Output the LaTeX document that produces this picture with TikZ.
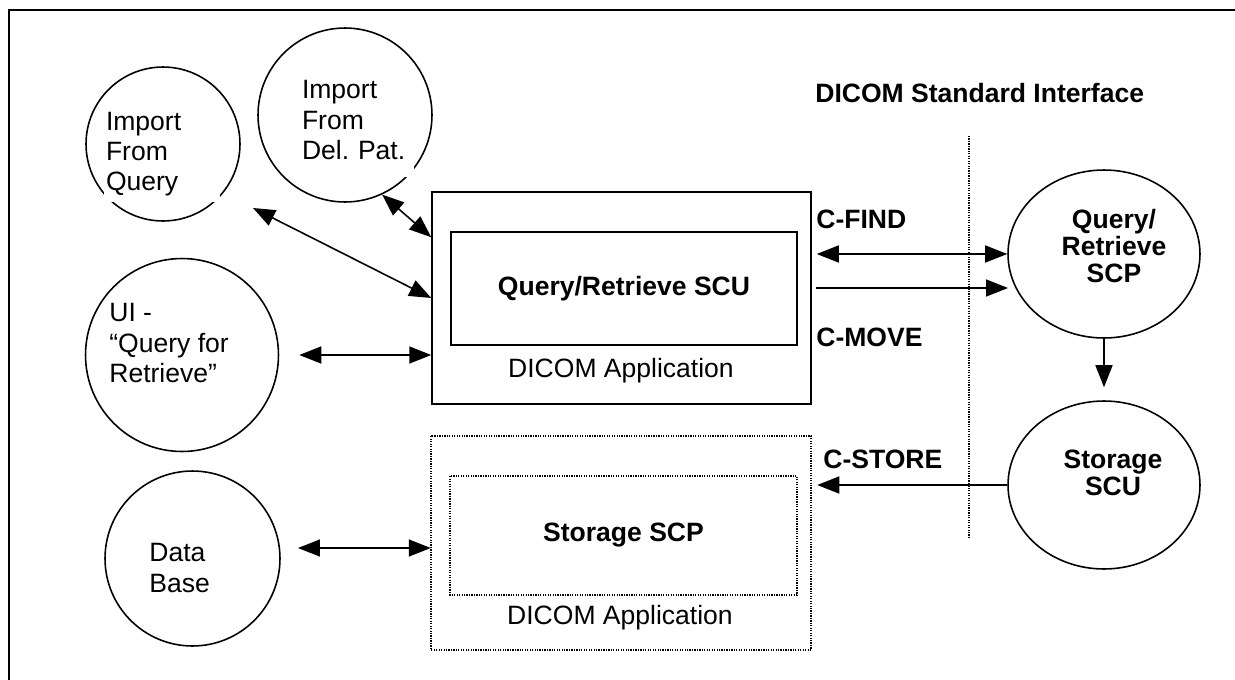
\documentclass[tikz,border=0pt]{standalone}
\usepackage{fontspec}
\setmainfont{Liberation Sans}
\usetikzlibrary{arrows.meta,shapes.geometric,calc}
\frenchspacing

\tikzset{
  every node/.style = {inner sep=0pt, font=\fontsize{15.1pt}{17.1pt}\selectfont},
  lw/.style         = {line width=0.9pt},
  proc/.style       = {draw, lw, circle, minimum size=#1},
  scp/.style        = {draw, lw, ellipse, minimum width=3.84cm, minimum height=3.36cm},
  appbox/.style     = {draw, lw, rectangle, minimum width=7.58cm, minimum height=4.24cm},
  svcbox/.style     = {draw, lw, rectangle, minimum width=6.92cm, minimum height=#1},
  dots/.style       = {line width=1.1pt, dash pattern=on 0.7pt off 0.7pt},
  bold/.style       = {font=\fontsize{15.1pt}{15.4pt}\selectfont\bfseries, align=center},
  cmd/.style        = {anchor=west, font=\fontsize{15.1pt}{17.1pt}\selectfont\bfseries},
  txt/.style        = {align=left, anchor=west},
  clip box/.style   = {fill=white, align=left, inner xsep=0.04cm, text width=#1},
  link/.style       = {lw}
}

\begin{document}
\begin{tikzpicture}[x=0.02cm, y=-0.02cm, >={Triangle[length=0.44cm, width=0.34cm]}]
    \useasboundingbox (0,0) rectangle (1235,680);
    \draw[line width=1.1pt] (1235,10) -- (9,10) -- (9,680);

    \node[proc=3.08cm] (ifq) at (163,144) {};
    \node[clip box=2.24cm, minimum height=1.92cm] (ifqtxt) at (162,154) {Import\\From\\Query};

    \node[proc=3.48cm] (idp) at (345,115) {};
    \node[clip box=2.2cm, minimum height=2.28cm] (idptxt) at (357,120) {Import\\From\\Del. Pat.};

    \node[proc=3.86cm] (ui) at (182,355) {};
    \node[txt] (uitxt) at (109,343) {UI -\\“Query for\\Retrieve”};

    \node[proc=3.5cm] (db) at (192.5,558.5) {};
    \node[txt] (dbtxt) at (149,568) {Data\\Base};

    \node[appbox] (app) at (621.5,298) {};
    \node[svcbox=2.26cm] (qrscu) at (624,288.5) {\bfseries Query/Retrieve SCU};
    \node (applbl) at (621,371) {DICOM Application};

    \node[appbox, draw=none] (stor) at (621,543) {};
    \draw[dots] (stor.north west) rectangle (stor.south east);
    \node[svcbox=2.34cm, draw=none] (storscp) at (623.5,535.5) {\bfseries Storage SCP};
    \draw[dots] (storscp.north west) rectangle (storscp.south east);
    \node (storlbl) at (620,618) {DICOM Application};

    \node[cmd] (title) at (815,93) {DICOM Standard Interface};
    \draw[dots] (969,136) -- (969,537);

    \node[scp] (qrscp) at (1104,254) {};
    \node[bold] (qrscptxt) at (1114,246) {Query/\\Retrieve\\SCP};
    \node[scp] (sscu) at (1104,485) {};
    \node[bold] (sscutxt) at (1113,473) {Storage\\SCU};

    \node[cmd] (find) at (816,219) {C-FIND};
    \node[cmd] (move) at (816,337) {C-MOVE};
    \node[cmd] (store) at (823,459) {C-STORE};

    \coordinate (qtip) at (253,208);
    \coordinate (dbtip) at (298,548);
    \coordinate (movetip) at (1008,288);

    \draw[link, <->] (qtip) -- (app.west);
    \draw[link, <->] (idp.-65) -- ($(app.north west)+(0,46)$);
    \draw[link, <->, shorten <=0.4cm] (ui.east) -- (ui.east -| app.west);
    \draw[link, <->] (dbtip) -- (dbtip -| stor.west);

    \draw[link, <->, shorten >=0.1cm] (qrscp.west) -- (qrscp.west -| app.east);
    \draw[link, ->, shorten <=0.08cm] (movetip -| app.east) -- (movetip);
    \draw[link, ->, shorten >=0.26cm] (qrscp.south) -- (sscu.north);
    \draw[link, ->, shorten >=0.12cm] (sscu.west) -- (sscu.west -| stor.east);
\end{tikzpicture}
\end{document}
